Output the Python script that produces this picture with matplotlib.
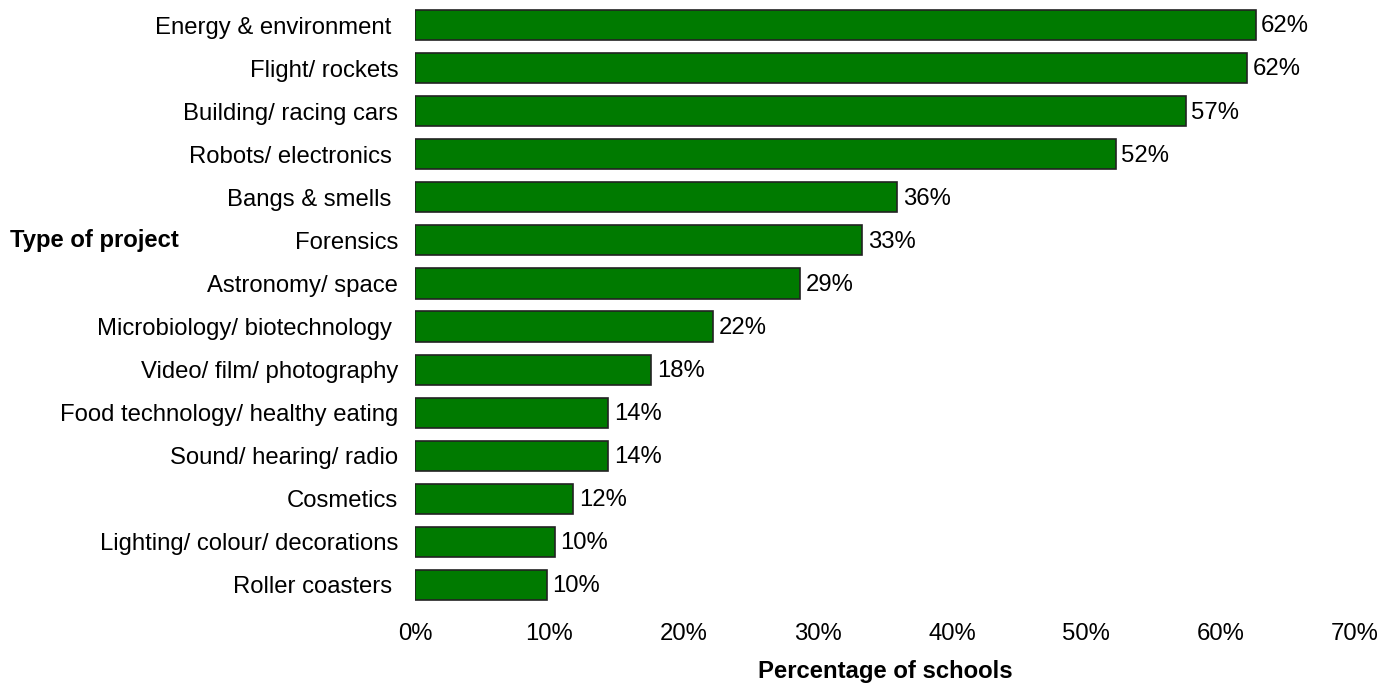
import numpy as np
import matplotlib
matplotlib.use("Agg")
import matplotlib.pyplot as plt

plt.rcParams['font.family'] = ['Liberation Sans', 'DejaVu Sans']

# data, top to bottom
projects = ["Energy & environment ", "Flight/ rockets", "Building/ racing cars",
            "Robots/ electronics ", "Bangs & smells ", "Forensics",
            "Astronomy/ space", "Microbiology/ biotechnology ",
            "Video/ film/ photography", "Food technology/ healthy eating",
            "Sound/ hearing/ radio", "Cosmetics", "Lighting/ colour/ decorations",
            "Roller coasters "]
values = [62.6, 62.0, 57.4, 52.2, 35.9, 33.3, 28.7, 22.2, 17.6, 14.4, 14.4, 11.8, 10.4, 9.8]
value_labels = ["62%", "62%", "57%", "52%", "36%", "33%", "29%", "22%", "18%",
                "14%", "14%", "12%", "10%", "10%"]
xticks = [0, 10, 20, 30, 40, 50, 60, 70]

fs = 17.2

fig = plt.figure(figsize=(14, 6.84), dpi=100)
ax = fig.add_axes([0.2964, 0.1133, 0.6714, 0.8816])

y = np.arange(len(projects))
bars = ax.barh(y, values, height=0.7, color="#007A00", edgecolor="#222222", linewidth=1.2)

for b, lab in zip(bars, value_labels):
    ax.annotate(lab, (b.get_width(), b.get_y() + b.get_height() / 2),
                xytext=(4, -1), textcoords="offset points",
                va="center", ha="left", fontsize=fs)

ax.set_ylim(len(projects) - 0.5, -0.5)
ax.set_xlim(0, 70)
ax.set_yticks(y)
ax.set_yticklabels(projects, fontsize=fs)
ax.set_xticks(xticks)
ax.set_xticklabels([f"{t}%" for t in xticks], fontsize=fs)
ax.tick_params(axis='y', length=0, pad=12)
ax.tick_params(axis='x', length=0, pad=12)
for s in ax.spines.values():
    s.set_visible(False)

ax.set_xlabel("Percentage of schools", fontsize=fs, fontweight="bold", labelpad=11)
fig.text(10 / 1400, 1 - 241 / 684, "Type of project", fontsize=fs,
         fontweight="bold", va="center", ha="left")

fig.savefig("out.png", dpi=100)
